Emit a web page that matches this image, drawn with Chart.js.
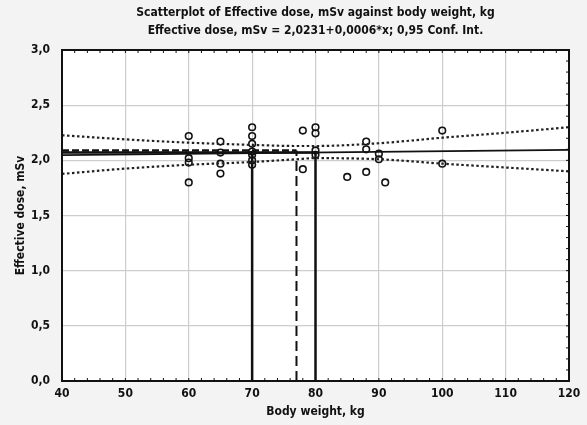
<!DOCTYPE html>
<html>
<head>
<meta charset="utf-8">
<script src="https://cdn.jsdelivr.net/npm/chart.js@4/dist/chart.umd.min.js"></script>
<style>
  html, body { margin: 0; padding: 0; background: #f3f3f3; }
  #wrap { width: 587px; height: 425px; }
</style>
</head>
<body>
<div id="wrap"><canvas id="chart" width="587" height="425"></canvas></div>
<script>
const FONT = "'Liberation Sans Narrow', 'DejaVu Sans Condensed', 'Roboto', sans-serif";

const titleLines = [
    'Scatterplot of Effective dose, mSv against body weight, kg',
    'Effective dose, mSv = 2,0231+0,0006*x; 0,95 Conf. Int.'
];

// observed points
const weights = [60, 60, 60, 60, 65, 65, 65, 65, 70, 70, 70, 70, 70, 70, 70, 78, 78, 80, 80, 80, 80, 85, 88, 88, 88, 90, 90, 91, 100, 100];
const doses   = [2.22, 2.02, 1.98, 1.80, 2.17, 2.07, 1.97, 1.88, 2.30, 2.22, 2.15, 2.08, 2.05, 2.00, 1.96, 2.27, 1.92, 2.30, 2.245, 2.09, 2.05, 1.85, 2.17, 2.10, 1.895, 2.06, 2.01, 1.80, 2.27, 1.97];

// regression line and 0.95 confidence band
const fitX = [40, 120];
const fitY = [2.047, 2.095];
const bandX = [40, 50, 60, 70, 77, 80, 90, 100, 110, 120];
const bandUpper = [2.227, 2.19, 2.16, 2.14, 2.13, 2.13, 2.155, 2.205, 2.25, 2.30];
const bandLower = [1.877, 1.925, 1.96, 1.985, 2.01, 2.02, 2.01, 1.97, 1.935, 1.90];

// reference lines (weights 70, 77, 80)
const refSolidLevel = 2.07;
const refDashLevel = 2.09;
const refSolidX = [70, 80];
const refDashX = 77;

const xTicks = [40, 50, 60, 70, 80, 90, 100, 110, 120];
const yTicks = [0, 0.5, 1, 1.5, 2, 2.5, 3];

const pts = (xs, ys) => xs.map((x, i) => ({ x: x, y: ys[i] }));

const lineDefaults = {
    type: 'line', showLine: true, pointRadius: 0, pointHoverRadius: 0,
    borderColor: '#111', fill: false
};

const datasets = [
    Object.assign({}, lineDefaults, {
        label: 'upper', data: pts(bandX, bandUpper), borderWidth: 2.2,
        borderDash: [2.5, 2.5], borderColor: '#222', cubicInterpolationMode: 'monotone'
    }),
    Object.assign({}, lineDefaults, {
        label: 'lower', data: pts(bandX, bandLower), borderWidth: 2.2,
        borderDash: [2.5, 2.5], borderColor: '#222', cubicInterpolationMode: 'monotone'
    }),
    Object.assign({}, lineDefaults, {
        label: 'fit', data: pts(fitX, fitY), borderWidth: 1.6
    }),
    Object.assign({}, lineDefaults, {
        label: 'ref solid h', data: [{ x: 40, y: refSolidLevel }, { x: refSolidX[1], y: refSolidLevel }], borderWidth: 2.5
    }),
    Object.assign({}, lineDefaults, {
        label: 'ref dash h', data: [{ x: 40, y: refDashLevel }, { x: refDashX, y: refDashLevel }],
        borderWidth: 2.5, borderDash: [7, 3]
    }),
    Object.assign({}, lineDefaults, {
        label: 'ref dash v', data: [{ x: refDashX, y: 0 }, { x: refDashX, y: refDashLevel }],
        borderWidth: 2, borderDash: [10, 5]
    })
];
refSolidX.forEach(x => {
    datasets.push(Object.assign({}, lineDefaults, {
        label: 'ref v ' + x, data: [{ x: x, y: 0 }, { x: x, y: refSolidLevel }], borderWidth: 2.5
    }));
});
datasets.push({
    type: 'scatter', label: 'points', data: pts(weights, doses),
    pointStyle: 'circle', pointRadius: 3.3, pointBorderWidth: 1.6,
    pointBorderColor: '#111', pointBackgroundColor: 'rgba(255,255,255,0)', showLine: false
});

// white plot area, frame with minor ticks, two-line title
const decor = {
    id: 'decor',
    beforeDraw(chart) {
        const { ctx, chartArea: a } = chart;
        ctx.save();
        ctx.fillStyle = '#fff';
        ctx.fillRect(a.left, a.top, a.right - a.left, a.bottom - a.top);
        ctx.restore();
    },
    afterDraw(chart) {
        const { ctx, chartArea: a, scales } = chart;
        ctx.save();
        ctx.strokeStyle = '#111';
        ctx.lineWidth = 1;
        ctx.beginPath();
        for (let v = 40; v <= 120; v += 2) {
            const px = scales.x.getPixelForValue(v);
            ctx.moveTo(px, a.top); ctx.lineTo(px, a.top + 3);
            ctx.moveTo(px, a.bottom); ctx.lineTo(px, a.bottom - 3);
        }
        for (let k = 0; k <= 30; k++) {
            const py = scales.y.getPixelForValue(k / 10);
            ctx.moveTo(a.right, py); ctx.lineTo(a.right - 3, py);
        }
        ctx.stroke();
        ctx.lineWidth = 2;
        ctx.strokeRect(a.left, a.top, a.right - a.left, a.bottom - a.top);

        ctx.fillStyle = '#111';
        ctx.font = 'bold 12px ' + FONT;
        ctx.textAlign = 'center';
        ctx.textBaseline = 'middle';
        const cx = (a.left + a.right) / 2;
        ctx.fillText(titleLines[0], cx, 13);
        ctx.fillText(titleLines[1], cx, 31);
        ctx.restore();
    }
};

new Chart(document.getElementById('chart'), {
    type: 'scatter',
    data: { datasets: datasets },
    options: {
        responsive: false,
        animation: false,
        layout: { padding: { top: 50, right: 18, left: 14, bottom: 6 } },
        plugins: {
            legend: { display: false },
            title: { display: false },
            tooltip: { enabled: false }
        },
        scales: {
            x: {
                type: 'linear', min: 40, max: 120,
                afterBuildTicks: s => { s.ticks = xTicks.map(v => ({ value: v })); },
                afterFit: s => { s.height = 38; },
                grid: { color: '#cdcdcd', lineWidth: 1.2, drawTicks: false },
                border: { display: false },
                ticks: { color: '#111', padding: 6, font: { family: FONT, size: 12, weight: 'bold' } },
                title: {
                    display: true, text: 'Body weight, kg', color: '#111',
                    padding: { top: 2, bottom: 0 },
                    font: { family: FONT, size: 12, weight: 'bold' }
                }
            },
            y: {
                type: 'linear', min: 0, max: 3,
                afterBuildTicks: s => { s.ticks = yTicks.map(v => ({ value: v })); },
                afterFit: s => { s.width = 48; },
                grid: { color: '#cdcdcd', lineWidth: 1.2, drawTicks: false },
                border: { display: false },
                ticks: {
                    color: '#111', padding: 12,
                    font: { family: FONT, size: 12, weight: 'bold' },
                    callback: v => v.toFixed(1).replace('.', ',')
                },
                title: {
                    display: true, text: 'Effective dose, mSv', color: '#111',
                    padding: { top: 0, bottom: 0 },
                    font: { family: FONT, size: 12, weight: 'bold' }
                }
            }
        }
    },
    plugins: [decor]
});
</script>
</body>
</html>
